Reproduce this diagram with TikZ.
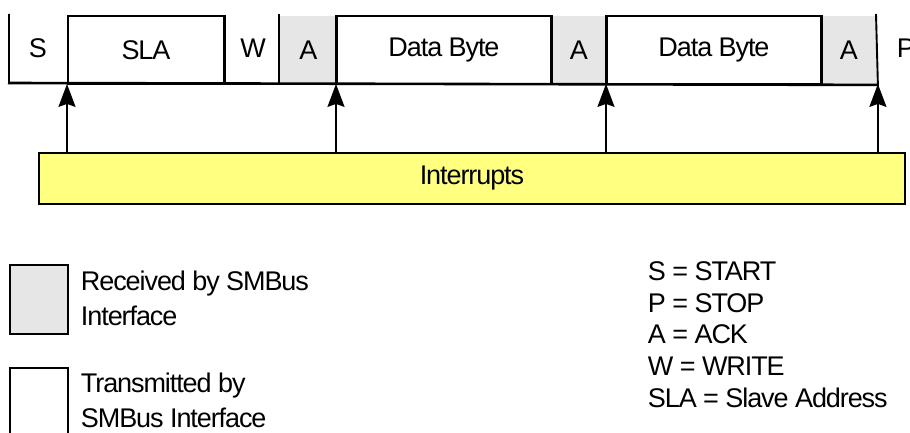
\documentclass[tikz,border=0pt]{standalone}
\usepackage{fontspec}
\setmainfont{Liberation Sans}[LetterSpace=-4]
\usetikzlibrary{arrows.meta}
\definecolor{rxgray}{HTML}{E6E6E6}
\definecolor{intyellow}{HTML}{FFFF80}
\begin{document}
\begin{tikzpicture}[x=1pt,y=-1pt, line width=1.9pt, line join=miter,
  lbl/.style={font=\fontsize{27}{32}\selectfont, inner sep=0pt},
  txbox/.style={lbl, draw, fill=white, anchor=north west, minimum height=68pt},
  rxbox/.style={lbl, fill=rxgray, anchor=north west, minimum height=68pt},
  fieldtxt/.style={lbl},
  intarrow/.style={-{Stealth[length=23pt,width=17pt,inset=3pt]}}
]
\useasboundingbox (0,0) rectangle (910,433);
% frame fields
\node[fieldtxt] (s) at (38,48) {S};
\node[txbox, minimum width=156pt] (sla) at (67,15) {SLA};
\node[fieldtxt] (w) at (253,48) {W};
\node[rxbox, minimum width=57pt] (a1) at (279,15) {A};
\node[txbox, minimum width=214pt] (d1) at (336,15) {Data Byte};
\node[rxbox, minimum width=56pt] (a2) at (550,15) {A};
\node[txbox, minimum width=214pt] (d2) at (606,15) {Data Byte};
\node[rxbox, minimum width=56pt] (a3) at (820,15) {A};
\node[fieldtxt, anchor=west] (p) at (896,48) {P};
% redraw borders over grey fields
\draw (sla.north east) -- (sla.south east);
\draw (d1.north west) -- (d1.south west) (d1.north east) -- (d1.south east);
\draw (d2.north west) -- (d2.south west) (d2.north east) -- (d2.south east);
\draw (9,14) -- (9,83) (a3.south east) -- (876,14);
\draw[line width=2.6pt] (8,83) -- ([xshift=1pt]a3.south east);
\draw (a1.south west) -- (279,14);
% interrupts
\node[lbl, draw, fill=intyellow, anchor=north west, minimum width=866pt, minimum height=51pt] (int) at (38,152) {Interrupts};
\draw[intarrow] (int.north -| sla.south west) -- ([yshift=1pt]sla.south west);
\draw[intarrow] (int.north -| d1.south west) -- ([yshift=1pt]d1.south west);
\draw[intarrow] (int.north -| d2.south west) -- ([yshift=1pt]d2.south west);
\draw[intarrow] (int.north -| a3.south east) -- ([yshift=1pt]a3.south east);
% legend
\node[draw, fill=rxgray, anchor=north west, minimum width=58pt, minimum height=69pt, inner sep=0pt] (lgrx) at (9,264) {};
\node[draw, fill=white, anchor=north west, minimum width=58pt, minimum height=90pt, inner sep=0pt] (lgtx) at (9,367) {};
\node[lbl, anchor=base west] (lgrx1) at (80,290) {Received by SMBus};
\node[lbl, anchor=base west] (lgrx2) at (80,325) {Interface};
\node[lbl, anchor=base west] (lgtx1) at (80,392) {Transmitted by};
\node[lbl, anchor=base west] (lgtx2) at (80,427) {SMBus Interface};
\node[lbl, anchor=base west] (k1) at (647,280) {S = START};
\node[lbl, anchor=base west] (k2) at (647,312) {P = STOP};
\node[lbl, anchor=base west] (k3) at (647,343) {A = ACK};
\node[lbl, anchor=base west] (k4) at (647,375) {W = WRITE};
\node[lbl, anchor=base west] (k5) at (647,407) {SLA = Slave Address};
\end{tikzpicture}
\end{document}
